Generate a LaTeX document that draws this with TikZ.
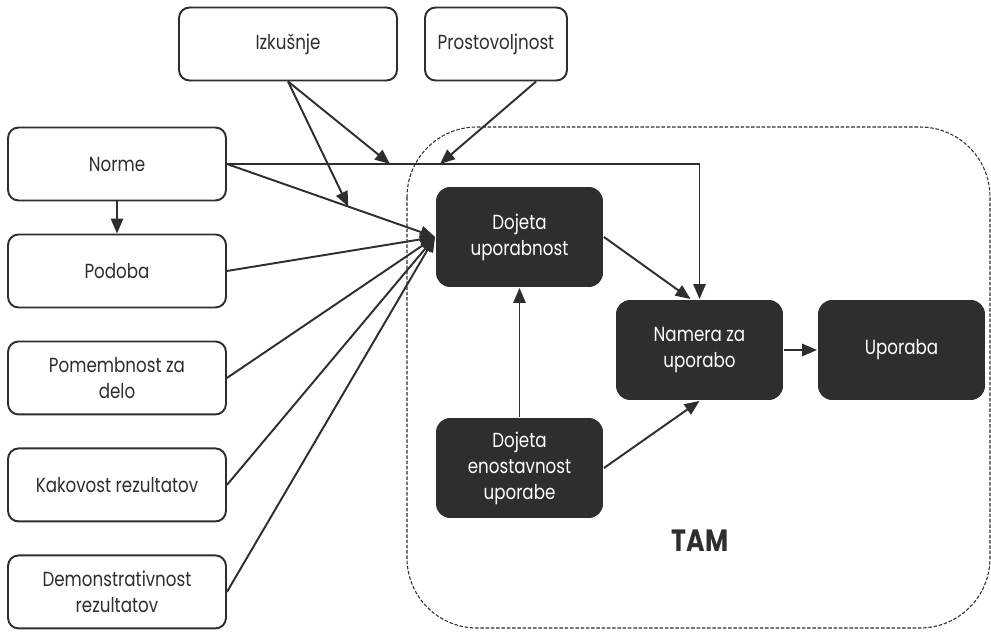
\documentclass[tikz,border=0pt]{standalone}
\usepackage{fontspec}
\setmainfont{Poppins}[FakeStretch=0.82]
\usetikzlibrary{arrows.meta,positioning}
\definecolor{ink}{HTML}{2E2E2E}

\begin{document}
\begin{tikzpicture}[->,>={Triangle[length=8.5pt,width=7pt]},line width=1.1pt,
                    x=0.02cm,y=-0.02cm,node distance=2.14cm,color=ink,
                    font=\fontsize{11.6}{14.8}\selectfont]
  \tikzstyle{box}=[draw=ink,fill=white,rounded corners=6pt,align=center,
                   minimum width=4.36cm,minimum height=1.46cm]
  \tikzstyle{core}=[fill=ink,text=white,rounded corners=8pt,align=center,
                    minimum width=3.34cm,minimum height=2cm]
  \useasboundingbox (0,0) rectangle (991,632);

  % TAM frame
  \draw[-,line width=0.6pt,dash pattern=on 2pt off 1pt,rounded corners=1.4cm]
    (407,127) rectangle (990,628);
  \node (tam) at (700,541) {\fontsize{17.5}{17.5}\selectfont\bfseries TAM};

  \node[box]                                 (izk) at (288,44)  {Izkušnje};
  \node[box,minimum width=2.84cm]            (pro) at (496,44)  {Prostovoljnost};
  \node[box]                                 (nor) at (117,164) {Norme};
  \node[box]         (pod) [below of=nor]   {Podoba};
  \node[box]         (pom) [below of=pod]   {Pomembnost za\\delo};
  \node[box]         (kak) [below of=pom]   {Kakovost rezultatov};
  \node[box]         (dem) [below of=kak]   {Demonstrativnost\\rezultatov};

  \node[core] (dpu) at (519.5,237) {Dojeta\\uporabnost};
  \node[core] (dpe) at (519.5,468) {Dojeta\\enostavnost\\uporabe};
  \node[core] (nam) at (699.5,350) {Namera za\\uporabo};
  \node[core] (upo) at (901.5,350) {Uporaba};

  \coordinate (h1) at (390,164);
  \coordinate (h2) at (440,164);
  \path (nor.east) -- (dpu.west) coordinate[pos=0.583] (n1);

  \path (nor.east) edge [to path={-| (\tikztotarget)}] (nam.north)
        (nor.east) edge (dpu.west)
        (nor)      edge (pod)
        (pod.east) edge (dpu.west)
        (pom.east) edge (dpu.west)
        (kak.east) edge (dpu.west)
        (dem.east) edge (dpu.west)
        (izk.south) edge (h1)
        (izk.south) edge (n1)
        (pro.-43)  edge (h2)
        (dpe)      edge (dpu)
        (dpu.east) edge (nam.100)
        (dpe.east) edge (nam.south)
        (nam)      edge (upo);
\end{tikzpicture}
\end{document}
